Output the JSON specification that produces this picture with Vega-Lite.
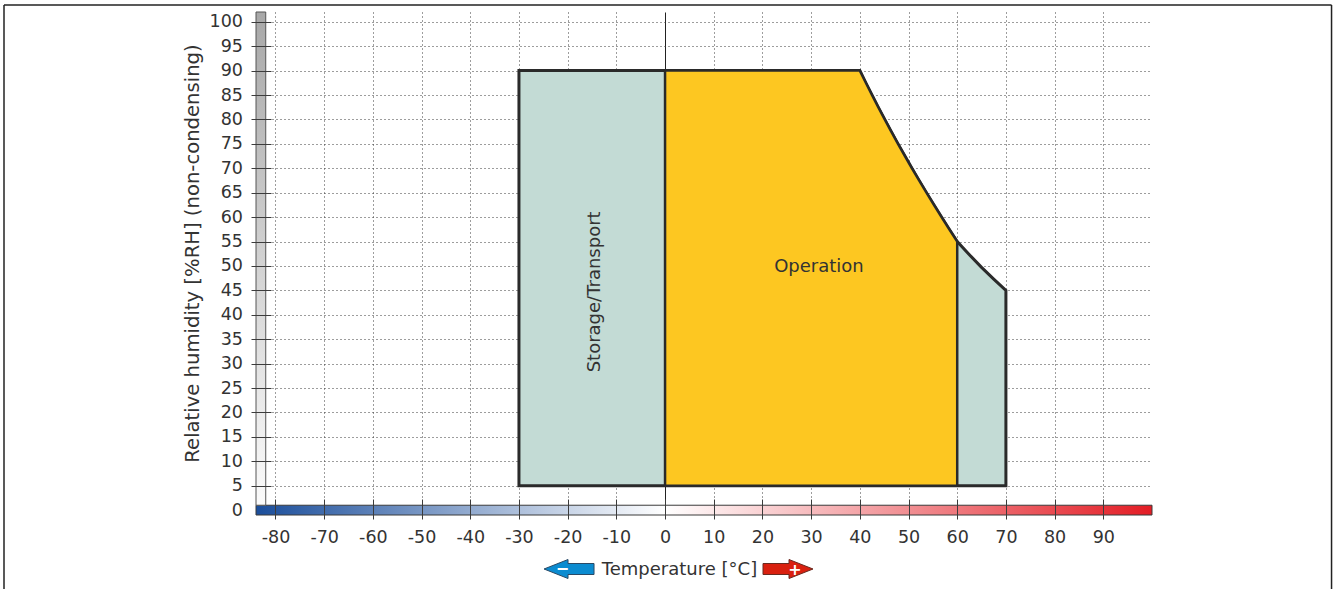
{
  "$schema": "https://vega.github.io/schema/vega-lite/v6.json",
  "width": 896,
  "height": 503,
  "autosize": {"type": "none"},
  "padding": {"left": 256, "top": 12, "right": 185, "bottom": 74},
  "background": "white",
  "config": {"view": {"stroke": null}, "text": {"font": "DejaVu Sans"}},
  "datasets": {
    "storage": [
      {"t": -30, "rh": 90}, {"t": 40, "rh": 90}, {"t": 41.23, "rh": 87.5}, {"t": 42.49, "rh": 85},
      {"t": 43.78, "rh": 82.5}, {"t": 45.11, "rh": 80}, {"t": 46.46, "rh": 77.5}, {"t": 47.84, "rh": 75},
      {"t": 49.26, "rh": 72.5}, {"t": 50.7, "rh": 70}, {"t": 52.17, "rh": 67.5}, {"t": 53.68, "rh": 65},
      {"t": 55.21, "rh": 62.5}, {"t": 56.78, "rh": 60}, {"t": 58.37, "rh": 57.5}, {"t": 60, "rh": 55},
      {"t": 62.5, "rh": 52.3}, {"t": 65, "rh": 49.7}, {"t": 67.5, "rh": 47.3}, {"t": 70, "rh": 45}
    ],
    "operation": [
      {"t": 0, "rh": 90}, {"t": 40, "rh": 90}, {"t": 41.23, "rh": 87.5}, {"t": 42.49, "rh": 85},
      {"t": 43.78, "rh": 82.5}, {"t": 45.11, "rh": 80}, {"t": 46.46, "rh": 77.5}, {"t": 47.84, "rh": 75},
      {"t": 49.26, "rh": 72.5}, {"t": 50.7, "rh": 70}, {"t": 52.17, "rh": 67.5}, {"t": 53.68, "rh": 65},
      {"t": 55.21, "rh": 62.5}, {"t": 56.78, "rh": 60}, {"t": 58.37, "rh": 57.5}, {"t": 60, "rh": 55}
    ],
    "one": [{"k": 1}]
  },
  "resolve": {"axis": {"x": "independent", "y": "independent"}},
  "layer": [
    {
      "data": {"name": "storage"},
      "mark": {"type": "area", "fill": "#c3dbd5", "stroke": "#2a2a2a", "strokeWidth": 3, "strokeJoin": "miter", "interpolate": "linear"},
      "encoding": {
        "x": {"field": "t", "type": "quantitative", "scale": {"domain": [-84, 100], "nice": false, "zero": false},
          "axis": {"orient": "bottom", "values": [-80,-70,-60,-50,-40,-30,-20,-10,0,10,20,30,40,50,60,70,80,90],
            "grid": true, "ticks": false, "labels": false, "domain": false, "title": null, "zindex": 0,
            "gridColor": {"condition": {"test": "datum.value === 0", "value": "#222222"}, "value": "#3a3a3a"},
            "gridDash": {"condition": {"test": "datum.value === 0", "value": []}, "value": [1, 3]},
            "gridWidth": 1}},
        "y": {"field": "rh", "type": "quantitative", "scale": {"domain": [-1, 102], "nice": false, "zero": false},
          "axis": {"orient": "left", "values": [5,10,15,20,25,30,35,40,45,50,55,60,65,70,75,80,85,90,95,100],
            "grid": true, "ticks": false, "labels": false, "domain": false, "title": null, "zindex": 0,
            "gridColor": "#3a3a3a", "gridDash": [1, 3], "gridWidth": 1}},
        "y2": {"datum": 5}
      }
    },
    {
      "data": {"name": "operation"},
      "mark": {"type": "area", "fill": "#fdc721", "stroke": "#2a2a2a", "strokeWidth": 2.5, "strokeJoin": "miter", "interpolate": "linear"},
      "encoding": {
        "x": {"field": "t", "type": "quantitative", "scale": {"domain": [-84, 100], "nice": false, "zero": false}, "axis": null},
        "y": {"field": "rh", "type": "quantitative", "scale": {"domain": [-1, 102], "nice": false, "zero": false}, "axis": null},
        "y2": {"datum": 5}
      }
    },
    {
      "data": {"name": "one"},
      "mark": {"type": "rect", "strokeWidth": 1, "stroke": "#3a3a3a",
        "fill": {"gradient": "linear", "x1": 0, "y1": 0, "x2": 1, "y2": 0,
          "stops": [{"offset": 0, "color": "#1b4e9b"}, {"offset": 0.4565, "color": "#ffffff"}, {"offset": 1, "color": "#e31d25"}]}},
      "encoding": {
        "x": {"datum": -84, "type": "quantitative", "scale": {"domain": [-84, 100], "nice": false, "zero": false},
          "axis": {"orient": "bottom", "values": [-80,-70,-60,-50,-40,-30,-20,-10,0,10,20,30,40,50,60,70,80,90],
            "grid": false, "domain": false, "ticks": true, "tickSize": -20, "tickColor": "#3c3c3c", "tickWidth": 1,
            "offset": 4, "labelPadding": 29, "labelFont": "DejaVu Sans", "labelFontSize": 17.5, "labelColor": "#333333",
            "labelFlush": false, "labelOverlap": false, "labelBound": false,
            "labelExpr": "(datum.value < 0 ? '-' : '') + abs(datum.value)",
            "title": "Temperature [°C]", "titleX": 423, "titleY": 50, "titleAlign": "center", "titleBaseline": "middle",
            "titleAngle": 0, "titleFont": "DejaVu Sans", "titleFontSize": 18, "titleFontWeight": "normal", "titleColor": "#333333",
            "zindex": 1}},
        "x2": {"datum": 100},
        "y": {"datum": -1, "type": "quantitative", "scale": {"domain": [-1, 102], "nice": false, "zero": false}, "axis": null},
        "y2": {"datum": 1}
      }
    },
    {
      "data": {"name": "one"},
      "mark": {"type": "rect", "strokeWidth": 1, "stroke": "#555555",
        "fill": {"gradient": "linear", "x1": 0, "y1": 0, "x2": 0, "y2": 1,
          "stops": [{"offset": 0, "color": "#a8a8a8"}, {"offset": 1, "color": "#fbfbfb"}]}},
      "encoding": {
        "x": {"datum": -84, "type": "quantitative", "scale": {"domain": [-84, 100], "nice": false, "zero": false}, "axis": null},
        "x2": {"datum": -82},
        "y": {"datum": 1, "type": "quantitative", "scale": {"domain": [-1, 102], "nice": false, "zero": false},
          "axis": {"orient": "left", "values": [0,5,10,15,20,25,30,35,40,45,50,55,60,65,70,75,80,85,90,95,100],
            "grid": false, "domain": false, "ticks": true, "tickSize": -20, "tickColor": "#3c3c3c", "tickWidth": 1,
            "tickOpacity": {"condition": {"test": "datum.value === 0", "value": 0}, "value": 1},
            "offset": 5, "labelPadding": 28.5, "labelFont": "DejaVu Sans", "labelFontSize": 17.5, "labelColor": "#333333",
            "labelFlush": false, "labelOverlap": false, "labelBound": false,
            "title": "Relative humidity [%RH] (non-condensing)", "titleX": -59, "titleY": 241, "titleAlign": "center",
            "titleBaseline": "middle", "titleAngle": 270, "titleFont": "DejaVu Sans", "titleFontSize": 19.6,
            "titleFontWeight": "normal", "titleColor": "#333333", "zindex": 1}},
        "y2": {"datum": 102}
      }
    },
    {
      "data": {"name": "one"},
      "mark": {"type": "text", "angle": 270, "fontSize": 18, "color": "#333333", "align": "center", "baseline": "middle"},
      "encoding": {
        "x": {"datum": -14.4, "type": "quantitative", "scale": {"domain": [-84, 100], "nice": false, "zero": false}, "axis": null},
        "y": {"datum": 44.7, "type": "quantitative", "scale": {"domain": [-1, 102], "nice": false, "zero": false}, "axis": null},
        "text": {"value": "Storage/Transport"}
      }
    },
    {
      "data": {"name": "one"},
      "mark": {"type": "text", "fontSize": 18, "color": "#333333", "align": "center", "baseline": "middle"},
      "encoding": {
        "x": {"datum": 31.6, "type": "quantitative", "scale": {"domain": [-84, 100], "nice": false, "zero": false}, "axis": null},
        "y": {"datum": 49.8, "type": "quantitative", "scale": {"domain": [-1, 102], "nice": false, "zero": false}, "axis": null},
        "text": {"value": "Operation"}
      }
    },
    {
      "data": {"name": "one"},
      "mark": {"type": "point", "shape": "M -1 0 L -0.04 -0.38 L -0.04 -0.22 L 1 -0.22 L 1 0.22 L -0.04 0.22 L -0.04 0.38 Z",
        "filled": true, "size": 2500, "fill": "#0b8bd0", "stroke": "#2a4a66", "strokeWidth": 1, "opacity": 1},
      "encoding": {
        "x": {"datum": -19.72, "type": "quantitative", "scale": {"domain": [-84, 100], "nice": false, "zero": false}, "axis": null},
        "y": {"datum": -12.06, "type": "quantitative", "scale": {"domain": [-1, 102], "nice": false, "zero": false}, "axis": null}
      }
    },
    {
      "data": {"name": "one"},
      "mark": {"type": "point", "shape": "M 1 0 L 0.04 -0.38 L 0.04 -0.22 L -1 -0.22 L -1 0.22 L 0.04 0.22 L 0.04 0.38 Z",
        "filled": true, "size": 2500, "fill": "#d9200f", "stroke": "#6a2a20", "strokeWidth": 1, "opacity": 1},
      "encoding": {
        "x": {"datum": 25.25, "type": "quantitative", "scale": {"domain": [-84, 100], "nice": false, "zero": false}, "axis": null},
        "y": {"datum": -12.06, "type": "quantitative", "scale": {"domain": [-1, 102], "nice": false, "zero": false}, "axis": null}
      }
    },
    {
      "data": {"name": "one"},
      "mark": {"type": "text", "fontSize": 16, "fontWeight": "bold", "color": "#ffffff", "align": "center", "baseline": "middle"},
      "encoding": {
        "x": {"datum": -21.05, "type": "quantitative", "scale": {"domain": [-84, 100], "nice": false, "zero": false}, "axis": null},
        "y": {"datum": -12.06, "type": "quantitative", "scale": {"domain": [-1, 102], "nice": false, "zero": false}, "axis": null},
        "text": {"value": "−"}
      }
    },
    {
      "data": {"name": "one"},
      "mark": {"type": "text", "fontSize": 16, "fontWeight": "bold", "color": "#ffffff", "align": "center", "baseline": "middle"},
      "encoding": {
        "x": {"datum": 26.7, "type": "quantitative", "scale": {"domain": [-84, 100], "nice": false, "zero": false}, "axis": null},
        "y": {"datum": -12.2, "type": "quantitative", "scale": {"domain": [-1, 102], "nice": false, "zero": false}, "axis": null},
        "text": {"value": "+"}
      }
    },
    {
      "data": {"name": "one"},
      "mark": {"type": "rule", "color": "#222222", "strokeWidth": 1.5},
      "encoding": {
        "x": {"datum": -135.75, "type": "quantitative", "scale": {"domain": [-84, 100], "nice": false, "zero": false}, "axis": null},
        "y": {"datum": -17, "type": "quantitative", "scale": {"domain": [-1, 102], "nice": false, "zero": false}, "axis": null},
        "y2": {"datum": 103.43}
      }
    },
    {
      "data": {"name": "one"},
      "mark": {"type": "rule", "color": "#222222", "strokeWidth": 1.5},
      "encoding": {
        "x": {"datum": 136.87, "type": "quantitative", "scale": {"domain": [-84, 100], "nice": false, "zero": false}, "axis": null},
        "y": {"datum": -17, "type": "quantitative", "scale": {"domain": [-1, 102], "nice": false, "zero": false}, "axis": null},
        "y2": {"datum": 103.43}
      }
    },
    {
      "data": {"name": "one"},
      "mark": {"type": "rule", "color": "#222222", "strokeWidth": 1.5},
      "encoding": {
        "x": {"datum": -135.75, "type": "quantitative", "scale": {"domain": [-84, 100], "nice": false, "zero": false}, "axis": null},
        "x2": {"datum": 136.87},
        "y": {"datum": 103.43, "type": "quantitative", "scale": {"domain": [-1, 102], "nice": false, "zero": false}, "axis": null}
      }
    }
  ]
}
